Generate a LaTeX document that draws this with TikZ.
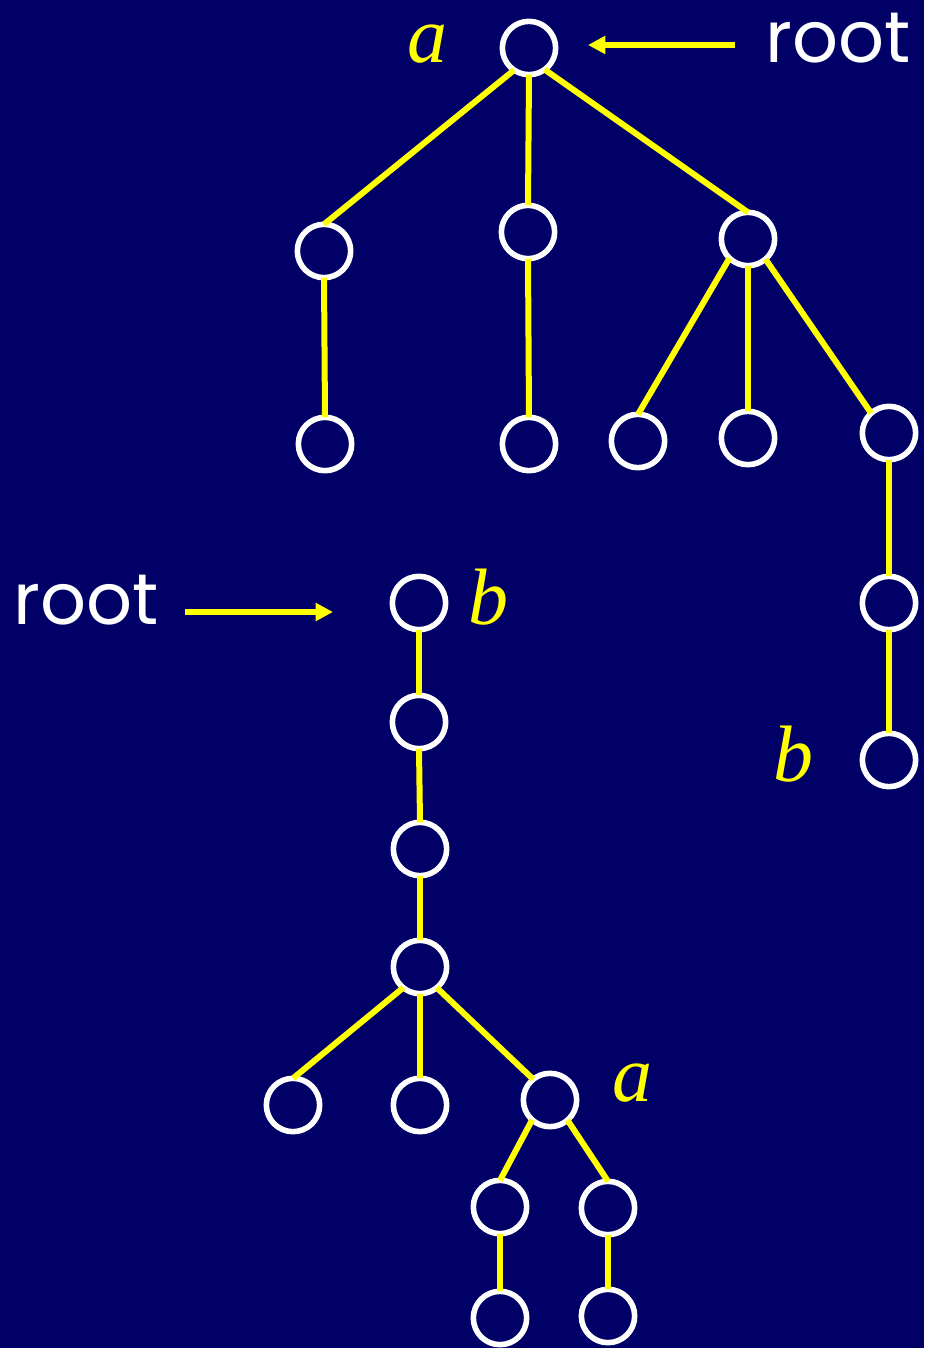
\documentclass[tikz,border=0pt]{standalone}
\usepackage{fontspec}
\newfontfamily\labelfont{Liberation Serif}
\newfontfamily\rootfont{Poppins}
\usetikzlibrary{arrows.meta}
\definecolor{navy}{RGB}{0,0,102}
\definecolor{yel}{RGB}{255,255,0}
\tikzset{
  vtx/.style={circle, draw=white, line width=4.2pt, minimum size=40pt, inner sep=0pt, outer sep=0pt},
  edge/.style={draw=yel, line width=4.5pt},
  ptr/.style={draw=yel, line width=4.3pt, -{Triangle[length=13pt,width=13pt]}},
  vname/.style={text=yel, font=\labelfont\itshape\fontsize{60}{60}\selectfont},
  rname/.style={text=white, font=\rootfont\fontsize{54}{54}\selectfont}
}
\begin{document}
\begin{tikzpicture}[x=0.75pt, y=-0.75pt]
\fill[navy] (0,0) rectangle (924,1348);
\useasboundingbox (0,0) rectangle (924,1348);

% first tree, rooted at a
\node[vtx] (r)  at (529,48) {};
\node[vtx] (p1) at (324,251) {};
\node[vtx] (p2) at (528,232) {};
\node[vtx] (p3) at (748,239) {};
\node[vtx] (q1) at (325,444) {};
\node[vtx] (q2) at (529,444) {};
\node[vtx] (q3) at (638,441) {};
\node[vtx] (q4) at (748,438) {};
\node[vtx] (q5) at (889,433) {};
\node[vtx] (s1) at (889,603) {};
\node[vtx] (s2) at (889,760) {};
\node[vname] (la) at (427,44) {a};
\node[vname] (lb) at (793,754) {b};
\node[rname] (t1) at (838,38) {root};
\coordinate (a1s) at (735,45);
\draw[ptr] (a1s) -- (588,45);

\draw[edge] (r.236) -- (p1.north);
\draw[edge] (r.south) -- (p2.north);
\draw[edge] (r.306) -- (p3.north);
\draw[edge] (p1.south) -- (q1.north);
\draw[edge] (p2.south) -- (q2.north);
\draw[edge] (p3.226) -- (q3.north);
\draw[edge] (p3.south) -- (q4.north);
\draw[edge] (p3.311) -- (q5.132);
\draw[edge] (q5.south) -- (s1.north);
\draw[edge] (s1.south) -- (s2.north);

% second tree, rooted at b
\node[vtx] (b0) at (419,603) {};
\node[vtx] (b1) at (419,722) {};
\node[vtx] (b2) at (420,849) {};
\node[vtx] (b3) at (420,967) {};
\node[vtx] (c1) at (293,1105) {};
\node[vtx] (c2) at (420,1105) {};
\node[vtx] (c3) at (550,1100) {};
\node[vtx] (d1) at (500,1207) {};
\node[vtx] (d2) at (608,1208) {};
\node[vtx] (e1) at (500,1318) {};
\node[vtx] (e2) at (608,1316) {};
\node[vname] (lb2) at (488,597) {b};
\node[vname] (la2) at (632,1083) {a};
\node[rname] (t2) at (86,600) {root};
\coordinate (a2s) at (185,612);
\draw[ptr] (a2s) -- (333,612);

\draw[edge] (b0.south) -- (b1.north);
\draw[edge] (b1.south) -- (b2.north);
\draw[edge] (b2.south) -- (b3.north);
\draw[edge] (b3.231) -- (c1.north);
\draw[edge] (b3.south) -- (c2.north);
\draw[edge] (b3.309) -- (c3.129);
\draw[edge] (c3.228) -- (d1.north);
\draw[edge] (c3.311) -- (d2.north);
\draw[edge] (d1.south) -- (e1.north);
\draw[edge] (d2.south) -- (e2.north);
\end{tikzpicture}
\end{document}
